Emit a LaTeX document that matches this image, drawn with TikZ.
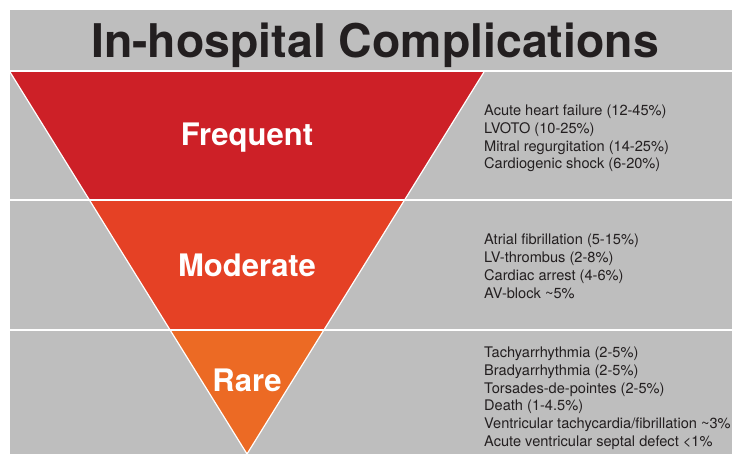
\documentclass[tikz,border=0pt]{standalone}
\usepackage{fontspec}
\setmainfont{TeX Gyre Heros}

\definecolor{panelgray}{HTML}{BEBEBE}
\definecolor{frequentred}{HTML}{CD2027}
\definecolor{moderatered}{HTML}{E54125}
\definecolor{rareorange}{HTML}{EC6A24}
\definecolor{inkdark}{HTML}{231F20}

\begin{document}
\begin{tikzpicture}[x=1pt, y=-1pt,
  divider/.style={draw=white, line width=1.2pt},
  level/.style={anchor=base, inner sep=0pt, text=white, font=\fontsize{31}{36}\selectfont\bfseries},
  itemlist/.style={anchor=north west, align=left, inner sep=0pt, text=inkdark, font=\fontsize{14.6}{17.9}\selectfont}]

\useasboundingbox (0,0) rectangle (732,454);
\fill[panelgray] (10,10) rectangle (732,454);

  % Funnel
  \coordinate (topleft) at (10,72);
  \coordinate (topright) at (484,72);
  \coordinate (apex) at (247,454);
  \begin{scope}
    \clip (topleft) -- (topright) -- (apex) -- cycle;
    \fill[frequentred] (0,72) rectangle (732,200);
    \fill[moderatered] (0,200) rectangle (732,330);
    \fill[rareorange] (0,330) rectangle (732,454);
  \end{scope}
  \draw[divider] (topleft) -- (apex) -- (topright);

  % Dividers
  \draw[divider] (10,71) -- (732,71);
  \draw[divider] (10,200) -- (732,200);
  \draw[divider] (10,330) -- (732,330);

  % Nodes
  \node (title) [anchor=base, inner sep=0pt, text=inkdark, font=\fontsize{46.4}{50}\selectfont\bfseries] at (375,57.3) {In-hospital Complications};
  \node (frequent) [level] at (247,145.7) {Frequent};
  \node (moderate) [level] at (247,276.3) {Moderate};
  \node (rare) [level] at (247,391.3) {Rare};

  \node (frequentlist) [itemlist] at (484,104.4) {Acute heart failure (12-45\%)\\LVOTO (10-25\%)\\Mitral regurgitation (14-25\%)\\Cardiogenic shock (6-20\%)};
  \node (moderatelist) [itemlist] at (484,233.7) {Atrial fibrillation (5-15\%)\\LV-thrombus (2-8\%)\\Cardiac arrest (4-6\%)\\AV-block \textasciitilde5\%};
  \node (rarelist) [itemlist] at (484,346.4) {Tachyarrhythmia (2-5\%)\\Bradyarrhythmia (2-5\%)\\Torsades-de-pointes (2-5\%)\\Death (1-4.5\%)\\Ventricular tachycardia/fibrillation \textasciitilde3\%\\Acute ventricular septal defect <1\%};

\end{tikzpicture}
\end{document}
